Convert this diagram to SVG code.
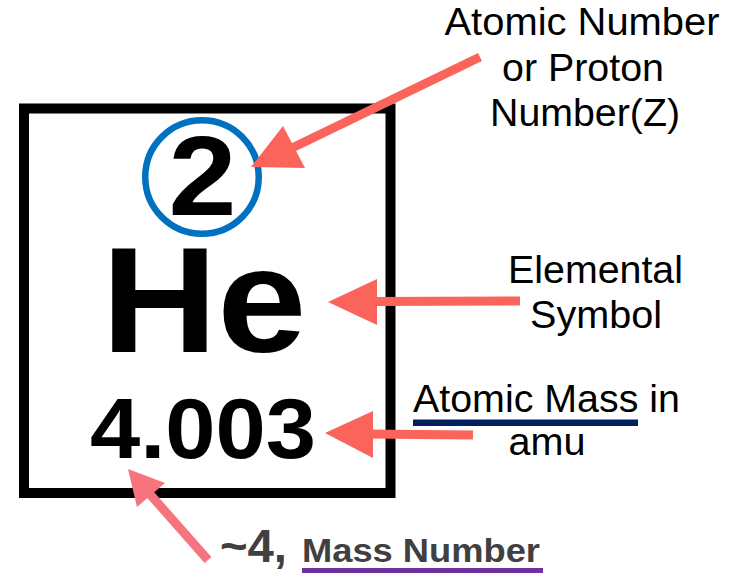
<svg xmlns="http://www.w3.org/2000/svg" width="741" height="574" viewBox="0 0 741 574">
  <style>
    .el { font-family: "Liberation Sans", Arial, sans-serif; font-weight: bold; fill: #000; text-anchor: middle; }
    .lbl { font-family: "Liberation Sans", Arial, sans-serif; font-size: 38px; fill: #000; text-anchor: middle; }
    .mass { font-family: "Liberation Sans", Arial, sans-serif; font-weight: bold; fill: #404040; }
    .arr { stroke: #FA645A; stroke-width: 9; fill: none; }
    .head { fill: #FA645A; }
    .arr2 { stroke: #F7737E; stroke-width: 9; fill: none; }
    .head2 { fill: #F7737E; }
  </style>
  <rect width="741" height="574" fill="#fff"/>

  <g id="element-box">
    <rect x="24" y="108.5" width="366.5" height="384.5" fill="none" stroke="#000" stroke-width="10"/>
    <circle cx="202" cy="177" r="56.75" fill="none" stroke="#0070C0" stroke-width="6.5"/>
    <text class="el" x="202.5" y="215" font-size="114" textLength="68" lengthAdjust="spacingAndGlyphs">2</text>
    <text class="el" x="204" y="352" font-size="150" textLength="205" lengthAdjust="spacingAndGlyphs">He</text>
    <text class="el" x="203" y="458" font-size="85" textLength="226" lengthAdjust="spacingAndGlyphs">4.003</text>
  </g>

  <g id="label-atomic-number">
    <text class="lbl" x="582" y="35" textLength="275" lengthAdjust="spacingAndGlyphs">Atomic Number</text>
    <text class="lbl" x="583" y="81" textLength="162" lengthAdjust="spacingAndGlyphs">or Proton</text>
    <text class="lbl" x="585" y="126" textLength="190" lengthAdjust="spacingAndGlyphs">Number(Z)</text>
  </g>

  <g id="label-elemental-symbol">
    <text class="lbl" x="595.5" y="283" textLength="175" lengthAdjust="spacingAndGlyphs">Elemental</text>
    <text class="lbl" x="596" y="328" textLength="132" lengthAdjust="spacingAndGlyphs">Symbol</text>
  </g>

  <g id="label-atomic-mass">
    <text class="lbl" x="413" y="412" style="text-anchor:start" textLength="267" lengthAdjust="spacingAndGlyphs">Atomic Mass in</text>
    <rect x="413" y="419.5" width="225" height="6.5" fill="#002060"/>
    <text class="lbl" x="547" y="455" textLength="77" lengthAdjust="spacingAndGlyphs">amu</text>
  </g>

  <g id="label-mass-number">
    <text class="mass" x="220" y="562" font-size="46" textLength="67" lengthAdjust="spacingAndGlyphs">~4,</text>
    <text class="mass" x="302" y="562" font-size="34" textLength="238" lengthAdjust="spacingAndGlyphs">Mass Number</text>
    <rect x="302" y="568" width="241" height="5" fill="#7030A0"/>
  </g>

  <g id="connectors">
    <line class="arr" x1="480" y1="57" x2="292" y2="148"/>
    <polygon class="head" points="251,167 283,126 305,168"/>
    <line class="arr" x1="520" y1="301" x2="370" y2="301.5"/>
    <polygon class="head" points="328,302 377,279 377,325"/>
    <line class="arr" x1="473" y1="435" x2="366" y2="434"/>
    <polygon class="head" points="325,433 373,411 373,458"/>
    <line class="arr2" x1="208" y1="560" x2="148" y2="492"/>
    <polygon class="head2" points="128,469 165,483 137,507"/>
  </g>
</svg>
